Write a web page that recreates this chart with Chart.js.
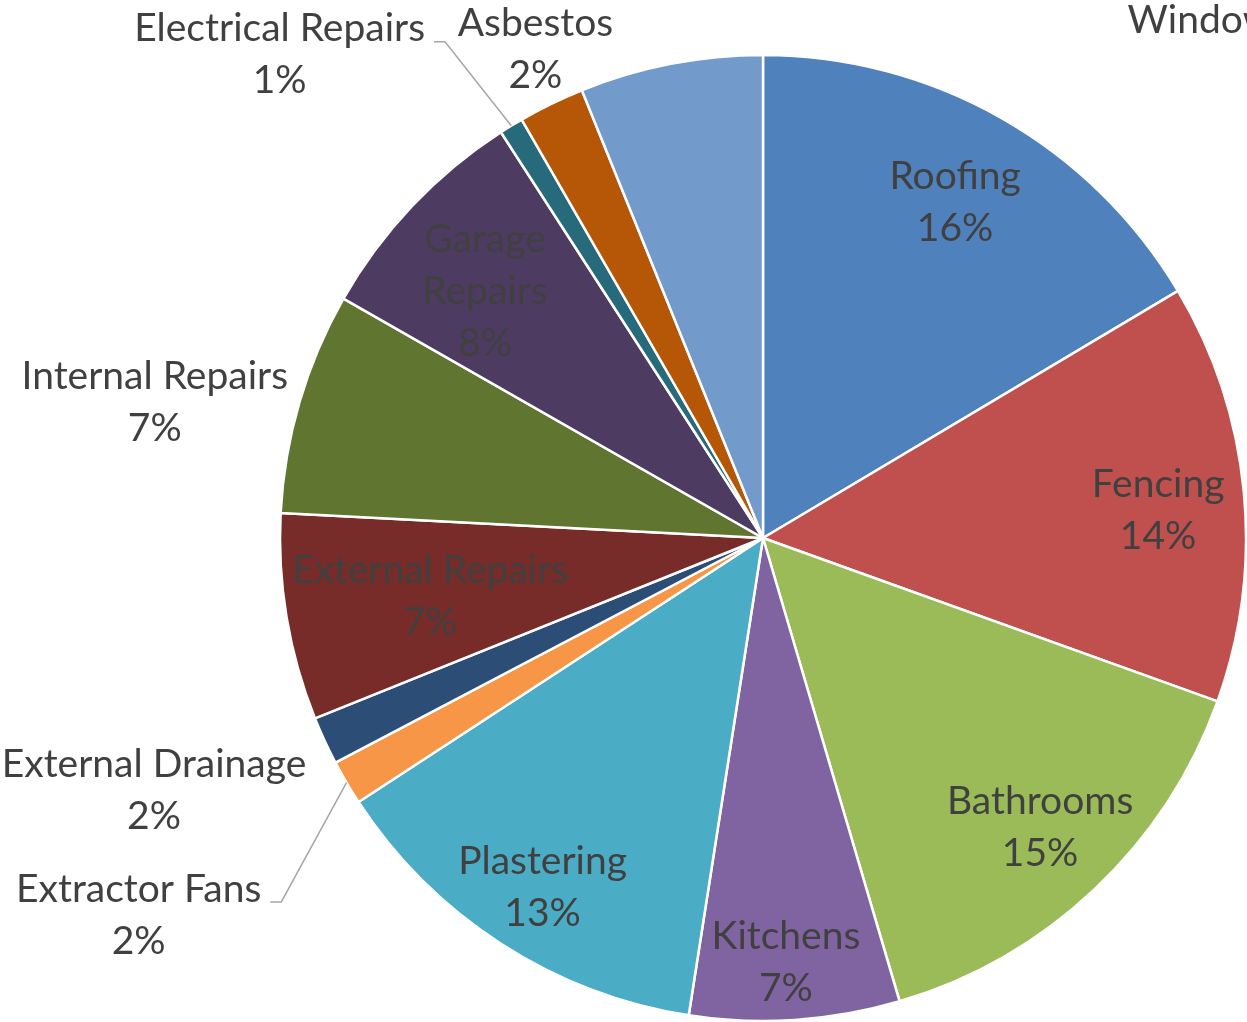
<!DOCTYPE html>
<html>
<head>
<meta charset="utf-8">
<script src="https://cdn.jsdelivr.net/npm/chart.js@4.4.1/dist/chart.umd.min.js"></script>
<style>
  html, body { margin: 0; padding: 0; background: #fff; overflow: hidden; }
  #wrap { width: 1247px; height: 1022px; position: relative; }
</style>
</head>
<body>
<div id="wrap"><canvas id="pie" width="1247" height="1022"></canvas></div>
<script>
// job categories, clockwise from 12 o'clock
const categories = ['Roofing', 'Fencing', 'Bathrooms', 'Kitchens', 'Plastering',
  'Extractor Fans', 'External Drainage', 'External Repairs', 'Internal Repairs',
  'Garage Repairs', 'Electrical Repairs', 'Asbestos', 'Windows'];
// share of jobs (%)
const shares = [16.4, 14.0, 14.9, 7.0, 13.3, 1.5, 1.6, 6.9, 7.4, 7.6, 0.8, 2.2, 6.1];
const sliceColors = ['#4F81BD', '#C0504D', '#9BBB59', '#8064A2', '#4BACC6', '#F79646',
  '#2C4D75', '#772C2A', '#5F7530', '#4D3B62', '#276A7C', '#B65708', '#729ACA'];

// label placement: radial factor of radius, angle nudge (deg) from slice middle
const labelPlace = [
  { f: 0.80, da: 0.2 }, { f: 0.82, da: 1.5 }, { f: 0.83, da: -0.4 }, { f: 0.88, da: 0.7 },
  { f: 0.855, da: -0.6 }, { f: 1.51, da: -0.7, leader: true }, { f: 1.365, da: 2.3 },
  { f: 0.70, da: -0.5 }, { f: 1.29, da: -3.8 }, { f: 0.77, da: -1.8, wrap: true },
  { f: 1.415, da: -13.6, leader: true }, { f: 1.115, da: 1.0 },
  { f: 1.31, da: 46.2, oneLine: true, left: true }
];

const total = shares.reduce((a, b) => a + b, 0);
const pctText = shares.map(v => Math.round(v / total * 100) + '%');

const FONT = '39px Lato';
const LINE_H = 52;
const TEXT_COL = '#404040';

const labelPlugin = {
  id: 'pieLabels',
  afterDatasetsDraw(chart) {
    const ctx = chart.ctx;
    const arcs = chart.getDatasetMeta(0).data;
    ctx.save();
    ctx.font = FONT;
    ctx.fillStyle = TEXT_COL;
    ctx.textBaseline = 'middle';
    arcs.forEach((arc, i) => {
      const p = labelPlace[i];
      const mid = (arc.startAngle + arc.endAngle) / 2;
      const a = mid + p.da * Math.PI / 180;
      const R = arc.outerRadius;
      const x = arc.x + Math.cos(a) * R * p.f;
      const y = arc.y + Math.sin(a) * R * p.f;
      let lines;
      if (p.oneLine) lines = [categories[i] + ' ' + pctText[i]];
      else if (p.wrap) lines = categories[i].split(' ').concat(pctText[i]);
      else lines = [categories[i], pctText[i]];
      const top = y - (lines.length - 1) * LINE_H / 2;
      ctx.textAlign = p.left ? 'left' : 'center';
      lines.forEach((t, k) => ctx.fillText(t, x, top + k * LINE_H));

      if (p.leader) {
        // thin grey line from slice edge to the label
        const ex = arc.x + Math.cos(mid) * R;
        const ey = arc.y + Math.sin(mid) * R;
        const w = ctx.measureText(lines[0]).width;
        const lx = x + w / 2 + 9;
        const ly = top + 13;
        ctx.strokeStyle = '#A6A6A6';
        ctx.lineWidth = 1.5;
        ctx.beginPath();
        ctx.moveTo(lx, ly);
        ctx.lineTo(lx + 11, ly);
        ctx.lineTo(ex, ey);
        ctx.stroke();
      }
    });
    ctx.restore();
  }
};

new Chart(document.getElementById('pie'), {
  type: 'pie',
  data: {
    labels: categories,
    datasets: [{
      data: shares,
      backgroundColor: sliceColors,
      borderColor: '#FFFFFF',
      borderWidth: 2.5
    }]
  },
  options: {
    responsive: false,
    animation: false,
    events: [],
    radius: 483,
    layout: { padding: { left: 279, top: 54, right: 0, bottom: 0 } },
    plugins: {
      legend: { display: false },
      tooltip: { enabled: false }
    }
  },
  plugins: [labelPlugin]
});
</script>
</body>
</html>
